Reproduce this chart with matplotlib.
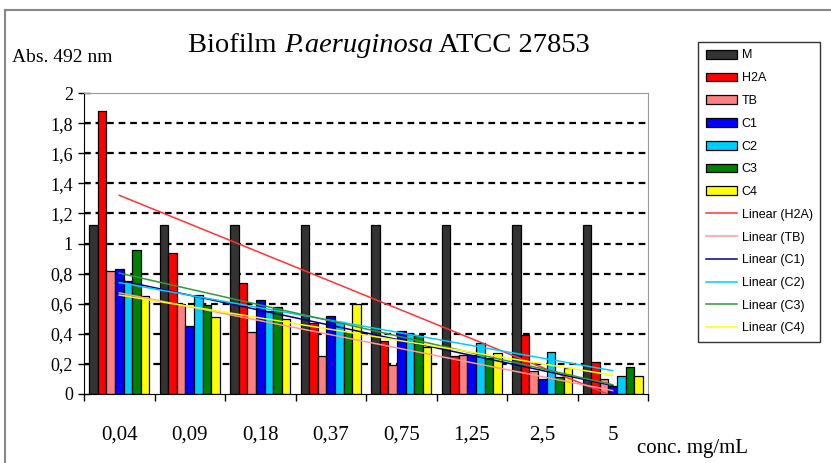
import numpy as np
import matplotlib
matplotlib.use("Agg")
import matplotlib.pyplot as plt
from matplotlib.lines import Line2D

plt.rcParams['font.family'] = ['Liberation Serif', 'DejaVu Serif']

# data
concentrations = ['0,04', '0,09', '0,18', '0,37', '0,75', '1,25', '2,5', '5']
series_names = ['M', 'H2A', 'TB', 'C1', 'C2', 'C3', 'C4']
M = [1.12, 1.12, 1.12, 1.12, 1.12, 1.12, 1.12, 1.12]
H2A = [1.88, 0.94, 0.735, 0.47, 0.35, 0.25, 0.39, 0.21]
TB = [0.82, 0.60, 0.41, 0.25, 0.19, 0.26, 0.15, 0.10]
C1 = [0.83, 0.45, 0.625, 0.515, 0.42, 0.26, 0.10, 0.05]
C2 = [0.75, 0.66, 0.55, 0.48, 0.40, 0.34, 0.28, 0.12]
C3 = [0.96, 0.59, 0.58, 0.41, 0.39, 0.24, 0.11, 0.18]
C4 = [0.65, 0.51, 0.50, 0.60, 0.31, 0.27, 0.17, 0.12]
yticks = [0, 0.2, 0.4, 0.6, 0.8, 1.0, 1.2, 1.4, 1.6, 1.8, 2.0]
ytick_labels = ['0', '0,2', '0,4', '0,6', '0,8', '1', '1,2', '1,4', '1,6', '1,8', '2']

bar_colors = ['#333333', '#ff0000', '#ff8080', '#0000ff', '#00ccff', '#008000', '#ffff00']
trend_colors = {'H2A': '#ff3333', 'TB': '#ff9999', 'C1': '#000080',
                'C2': '#00ccff', 'C3': '#339933', 'C4': '#ffff00'}

values = [M, H2A, TB, C1, C2, C3, C4]

fig = plt.figure(figsize=(8.31, 4.63), dpi=100)
ax = fig.add_axes([84 / 831, 69 / 463, 564 / 831, 301 / 463])

x = np.arange(1, len(concentrations) + 1)
w = 0.85 / len(series_names)
handles = []
for i, (name, vals, col) in enumerate(zip(series_names, values, bar_colors)):
    off = (i - (len(series_names) - 1) / 2) * w
    b = ax.bar(x + off, vals, width=w, color=col, edgecolor='black',
               linewidth=0.9, label=name, zorder=2)
    handles.append(b)

# linear trendlines (Excel style) fitted on category index
for name, vals in zip(series_names[1:], values[1:]):
    k, c = np.polyfit(x, vals, 1)
    ln, = ax.plot(x, k * x + c, color=trend_colors[name], lw=1.1, zorder=3,
                  label='Linear (%s)' % name)
    handles.append(ln)

ax.set_xlim(0.5, len(concentrations) + 0.5)
ax.set_ylim(0, 2)
ax.set_yticks(yticks)
ax.set_yticklabels(ytick_labels, fontsize=13)
ax.set_xticks(x)
ax.set_xticklabels(concentrations, fontsize=15)
ax.set_xticks(np.arange(0.5, len(concentrations) + 1), minor=True)
ax.tick_params(axis='x', which='major', length=0, pad=23)
ax.tick_params(axis='x', which='minor', length=5, width=1, direction='out')
ax.tick_params(axis='y', length=8, width=1, direction='inout', pad=4)

for v in yticks[1:-1]:
    ax.axhline(v, color='black', lw=1.6, ls=(0, (3, 2.2)), zorder=1)

ax.spines['left'].set_color('black')
ax.spines['bottom'].set_color('black')
ax.spines['top'].set_color('#999999')
ax.spines['right'].set_color('#999999')

# title in three pieces so the species name can be italic
fig.canvas.draw()
rend = fig.canvas.get_renderer()
parts = [('Biofilm ', 'normal'), ('P.aeruginosa', 'italic'), (' ATCC 27853', 'normal')]
texts = []
for s, style in parts:
    texts.append(fig.text(0, 1 - 46 / 463, s, ha='left', va='center',
                          fontsize=20.5, fontstyle=style))
widths = [t.get_window_extent(rend).width for t in texts]
xpos = 389 - sum(widths) / 2
for t, wd in zip(texts, widths):
    t.set_x(xpos / 831)
    xpos += wd

fig.text(12 / 831, 1 - 57 / 463, 'Abs. 492 nm', ha='left', va='center', fontsize=14)
fig.text(637 / 831, 1 - 449 / 463, 'conc. mg/mL', ha='left', va='center', fontsize=15)

leg = fig.legend(handles=handles, loc='upper left',
                 bbox_to_anchor=(698 / 831, 1 - 42 / 463),
                 prop={'family': 'Liberation Sans', 'size': 9},
                 frameon=True, fancybox=False, edgecolor='black',
                 handlelength=2.5, handleheight=0.7, labelspacing=0.86,
                 handletextpad=0.4, borderpad=0.6, borderaxespad=0)
leg.get_frame().set_linewidth(1.0)

# outer chart frame
fig.add_artist(Line2D([5 / 831, 1], [1 - 10 / 463] * 2, color='#888888', lw=1.5))
fig.add_artist(Line2D([5 / 831] * 2, [0, 1 - 10 / 463], color='#888888', lw=1.5))

fig.savefig('out.png', dpi=100)
